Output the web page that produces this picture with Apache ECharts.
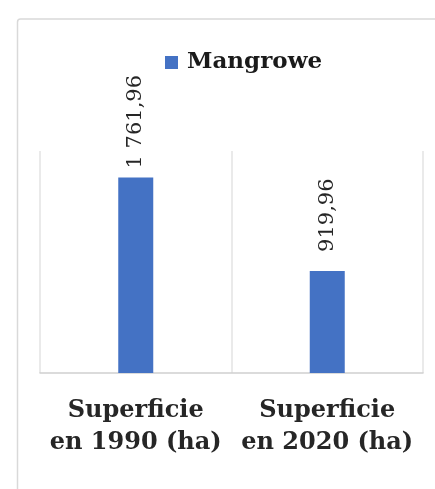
<!DOCTYPE html>
<html>
<head>
<meta charset="utf-8">
<script src="https://cdn.jsdelivr.net/npm/echarts@6/dist/echarts.min.js"></script>
<style>
html,body{margin:0;padding:0;background:#fff;}
#chart{width:435px;height:489px;}
</style>
</head>
<body>
<div id="chart"></div>
<script>
var categories = ['Superficie\nen 1990 (ha)', 'Superficie\nen 2020 (ha)'];
var seriesName = 'Mangrowe';
var values = [1761.96, 919.96];

function frNum(v) {
  var parts = v.toFixed(2).split('.');
  var intPart = parts[0].replace(/\B(?=(\d{3})+(?!\d))/g, ' ');
  return intPart + ',' + parts[1];
}

var labelDistances = [9, 19];

var chart = echarts.init(document.getElementById('chart'));
chart.setOption({
  animation: false,
  backgroundColor: '#ffffff',
  graphic: [{
    type: 'rect',
    z: -10,
    silent: true,
    shape: { x: 17.5, y: 19, width: 520, height: 520, r: 3 },
    style: { fill: '#ffffff', stroke: '#d9d9d9', lineWidth: 1.5 }
  }],
  legend: {
    data: [seriesName],
    left: 160,
    top: 46,
    itemWidth: 13,
    itemHeight: 13,
    icon: 'rect',
    textStyle: {
      fontFamily: 'DejaVu Serif',
      fontWeight: 'bold',
      fontSize: 23,
      color: '#1a1a1a',
      padding: [0, 0, 0, 4]
    }
  },
  grid: { left: 40, right: 12, top: 151, bottom: 116, containLabel: false },
  xAxis: {
    type: 'category',
    data: categories,
    boundaryGap: true,
    axisLine: { show: true, lineStyle: { color: '#d0d0d0', width: 1.5 } },
    axisTick: { show: false },
    splitLine: { show: true, interval: 0, lineStyle: { color: '#e3e3e3', width: 1.5 } },
    axisLabel: {
      interval: 0,
      margin: 22,
      fontFamily: 'DejaVu Serif',
      fontWeight: 'bold',
      fontSize: 24,
      lineHeight: 32,
      color: '#262626'
    }
  },
  yAxis: {
    type: 'value',
    min: 0,
    max: 2000,
    show: false,
    splitLine: { show: false }
  },
  series: [{
    name: seriesName,
    type: 'bar',
    barWidth: 35,
    itemStyle: { color: '#4472C4' },
    data: values.map(function (v, i) {
      return { value: v, label: { distance: labelDistances[i] } };
    }),
    label: {
      show: true,
      position: 'top',
      rotate: 90,
      align: 'left',
      verticalAlign: 'middle',
      fontFamily: 'DejaVu Serif',
      fontSize: 21,
      color: '#262626',
      formatter: function (p) { return frNum(p.value); }
    }
  }]
});
</script>
</body>
</html>
